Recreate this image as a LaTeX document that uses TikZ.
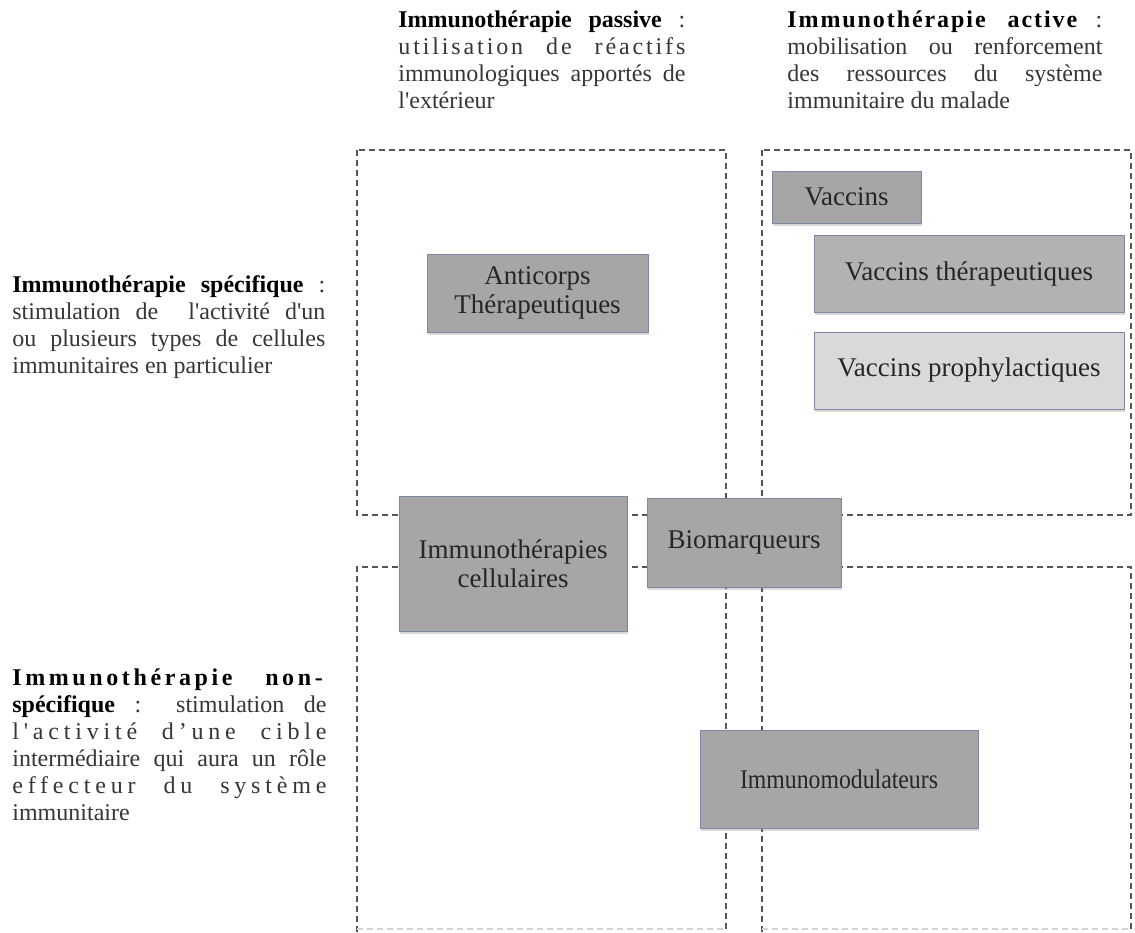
\documentclass[tikz,border=0pt]{standalone}
\usepackage{fontspec}
\setmainfont{Liberation Serif}
\usepackage{graphicx}
\usetikzlibrary{positioning, shadows}
\definecolor{boxgray}{HTML}{A6A6A6}
\definecolor{boxmid}{HTML}{B2B2B2}
\definecolor{boxlight}{HTML}{D9D9D9}
\definecolor{boxedge}{HTML}{7C88A6}
\definecolor{zoneline}{HTML}{555555}
\definecolor{bodytext}{HTML}{363636}
\newcommand{\jl}[1]{\makebox[\linewidth][s]{#1}} % one justified line
\newcommand{\spread}[1]{\addfontfeature{LetterSpace=#1}} % letter spacing
\newcommand{\head}[1]{\textcolor{black}{\textbf{#1}}}
\tikzset{
zone/.style={draw=zoneline, line width=0.8pt, dash pattern=on 3pt off 2pt}, % dashed quadrants
box/.style={draw=boxedge, line width=0.5pt, fill=boxgray, text=black!85, align=center, inner sep=2pt,
  font=\fontsize{13.5}{14.5}\selectfont,
  drop shadow={shadow xshift=0.5pt, shadow yshift=-1.4pt, opacity=0.3}}, % grey category boxes
note/.style={anchor=base west, inner sep=0pt, text=bodytext, font=\fontsize{12}{13.5}\selectfont}, % side texts
}

\begin{document}
\begin{tikzpicture}[x=0.5pt, y=-0.5pt]
\useasboundingbox (0,0) rectangle (1135,932);

% quadrants
\draw[zone] (357,150) rectangle (726,515);
\draw[zone] (762,150) rectangle (1131,515);
\draw[zone] (357,932) |- (726,567) -- (726,932);
\draw[zone] (762,932) |- (1131,567) -- (1131,932);
\draw[zone, draw=zoneline!25] (357,929) -- (726,929) (762,929) -- (1131,929);

% texts
\node[note] (passive) at (398,27) {\parbox[t]{143.5pt}{%
\jl{\head{Immunothérapie passive} :}\\
\jl{\spread{12}utilisation de réactifs}\\
\jl{immunologiques apportés de}\\
l\textquotesingle extérieur}};
\node[note] (active) at (787,27) {\parbox[t]{157.5pt}{%
\jl{\head{\spread{8}Immunothérapie active} :}\\
\jl{mobilisation ou renforcement}\\
\jl{des ressources du système}\\
immunitaire du malade}};
\node[note] (spec) at (12,292) {\parbox[t]{156.5pt}{%
\jl{\head{Immunothérapie spécifique} :}\\
\jl{stimulation de\ \ l\textquotesingle activité d\textquotesingle un}\\
\jl{ou plusieurs types de cellules}\\
immunitaires en particulier}};
\node[note] (nonspec) at (12,685) {\parbox[t]{157pt}{%
\jl{\head{\spread{15}Immunothérapie non-}}\\
\jl{\head{spécifique} : stimulation de}\\
\jl{\spread{20}l\kern2.4pt\textquotesingle\kern2.4pt activité d’une cible}\\
\jl{intermédiaire qui aura un rôle}\\
\jl{\spread{20}effecteur du système}\\
immunitaire}};

% boxes
\node[box, minimum width=110.5pt, minimum height=39pt] (anticorps) at (537.5,293) {Anticorps\\Thérapeutiques};
\node[box, minimum width=74.5pt, minimum height=26pt] (vaccins) at (846.5,197) {Vaccins};
\node[box, fill=boxmid, minimum width=155pt, minimum height=38.5pt] (vther) at (969,273.5) {Vaccins thérapeutiques};
\node[box, fill=boxlight, minimum width=155pt, minimum height=38.5pt, below=9.5pt of vther] (vproph) {Vaccins prophylactiques};
\node[box, minimum width=114pt, minimum height=67.5pt] (cell) at (513,563.5) {Immunothérapies\\cellulaires};
\node[box, minimum width=97pt, minimum height=44.5pt] (bio) at (744,542.5) {Biomarqueurs};
\node[box, minimum width=139pt, minimum height=49pt] (immod) at (839,779) {\scalebox{0.88}[1]{Immunomodulateurs}};
\end{tikzpicture}
\end{document}
